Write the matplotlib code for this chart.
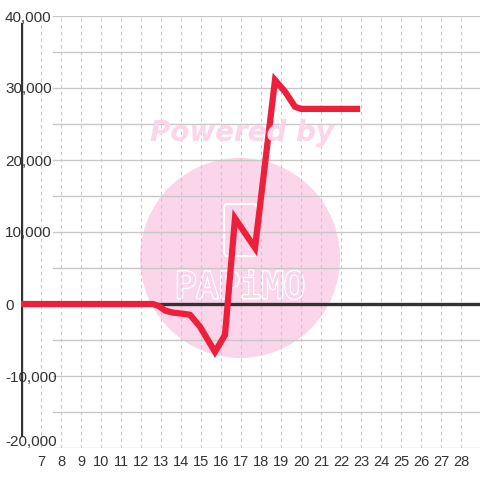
import matplotlib
matplotlib.use('Agg')
import matplotlib.pyplot as plt
import matplotlib.patheffects as pe
from matplotlib.patches import Ellipse, FancyBboxPatch
from matplotlib.lines import Line2D
from matplotlib.transforms import ScaledTranslation

# data
hours = [6, 12.6, 12.9, 13.2, 13.6, 14.1, 14.45, 14.95, 15.7, 16.2, 16.7, 17.7, 18.7, 19.2, 19.7, 20.0, 22.8]
values = [0, 0, -300, -900, -1200, -1350, -1500, -3150, -6650, -4300, 11900, 7800, 31100, 29500, 27400, 27100, 27100]

x_ticks = list(range(7, 29))
y_ticks = [-20000, -10000, 0, 10000, 20000, 30000, 40000]
y_labels = ['-20,000', '-10,000', '0', '10,000', '20,000', '30,000', '40,000']
y_grid = list(range(-20000, 40001, 5000))

W = H = 480
PINK = '#fbd5ea'
fig = plt.figure(figsize=(4.8, 4.8), dpi=100)
fig.patch.set_facecolor('white')
ax = fig.add_axes([21 / W, 32 / H, (W - 21) / W, (448 - 16) / H])
ax.set_xlim(6, 6 + (W - 21) / 20)
ax.set_ylim(-20000, 40000)
for s in ax.spines.values():
    s.set_visible(False)

# watermark
ax.add_patch(Ellipse((240 / W, 1 - 258 / H), 200 / W, 200 / H,
                     transform=fig.transFigure, facecolor=PINK,
                     edgecolor='none', zorder=0.1))
ax.add_patch(FancyBboxPatch((224 / W, 1 - 256 / H), 33 / W, 52 / H,
                            boxstyle='round,pad=0,rounding_size=0.008',
                            transform=fig.transFigure, facecolor='none',
                            edgecolor='white', lw=1.6, zorder=0.2))
fig.text(242 / W, 1 - 133 / H, 'Powered by', color=PINK, fontsize=20,
         fontweight='bold', style='italic', family='DejaVu Sans',
         ha='center', va='center', zorder=0.2)
logo = ax.text(240 / W, 1 - 288 / H, 'PAPiMO', color=PINK, fontsize=26,
               family='DejaVu Sans Mono', ha='center', va='center',
               transform=fig.transFigure, zorder=0.2)
logo.set_path_effects([pe.withStroke(linewidth=2.2, foreground='white'), pe.Normal()])
logo.set_color(PINK)

# grid
for v in y_grid:
    if v != 0:
        ax.axhline(v, xmin=(53 - 21) / (W - 21), xmax=1, color='#c8c8c8', lw=1, zorder=1)
for t in x_ticks:
    ax.axvline(t, color='#c8c8c8', lw=0.8, ls=(0, (3, 3)), zorder=1)

# zero line and left axis
ax.axhline(0, color='#333333', lw=2.4, zorder=2)
ax.add_line(Line2D([21 / W, 21 / W], [1 - 24 / H, 1 - 435 / H], transform=fig.transFigure,
                   color='#333333', lw=2.4, zorder=2))

ax.plot(hours, values, color='#ee1f3a', lw=4.5, solid_joinstyle='miter', zorder=3)

ax.set_xticks(x_ticks)
ax.set_xticklabels([str(t) for t in x_ticks], fontsize=10.5, family='Liberation Sans', color='#333333')
ax.set_yticks(y_ticks)
ax.set_yticklabels(y_labels, fontsize=11, family='Liberation Sans', color='#333333')
ax.tick_params(axis='both', length=0)
ax.tick_params(axis='x', pad=5)
ax.tick_params(axis='y', pad=11.5)
for lab in ax.get_yticklabels():
    lab.set_horizontalalignment('left')
bottom_lab = ax.get_yticklabels()[0]
bottom_lab.set_transform(bottom_lab.get_transform() + ScaledTranslation(0, 7 / 100, fig.dpi_scale_trans))

fig.savefig('out.png', dpi=100)
